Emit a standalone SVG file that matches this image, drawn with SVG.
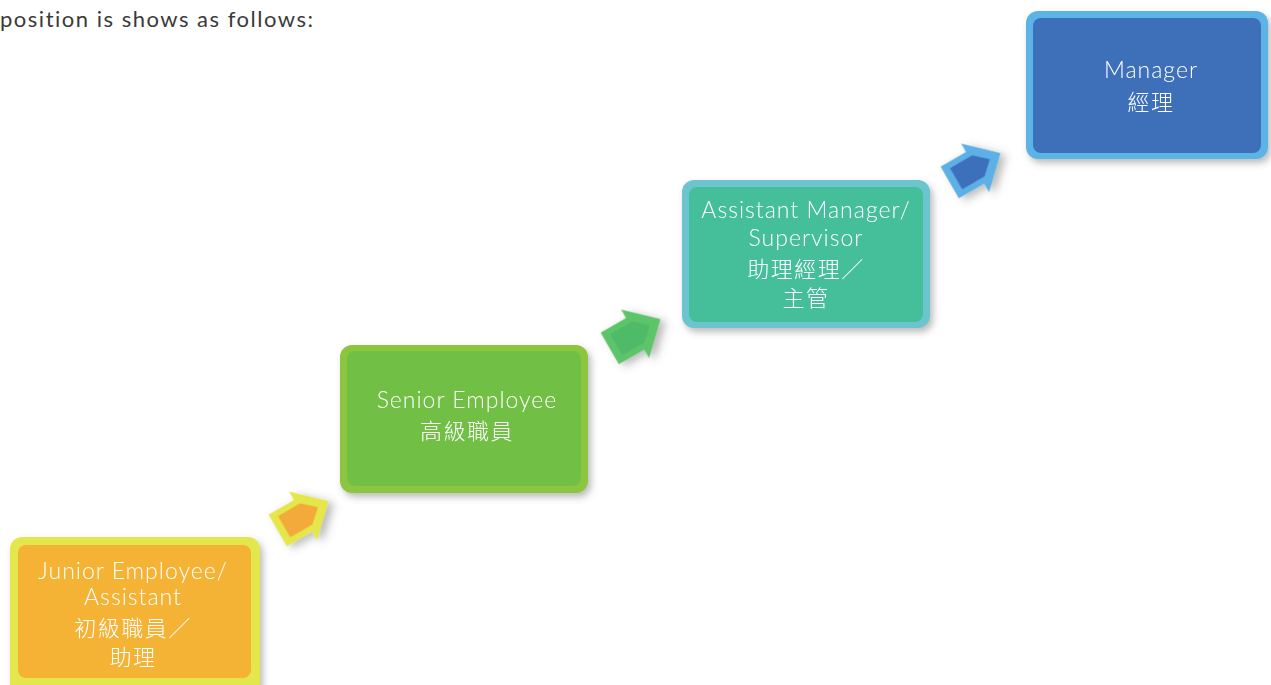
<svg xmlns="http://www.w3.org/2000/svg" width="1271" height="685" viewBox="0 0 1271 685">
<defs>
<filter id="sh" x="-10%" y="-10%" width="125%" height="130%">
<feDropShadow dx="3" dy="4" stdDeviation="3.5" flood-color="#555" flood-opacity="0.4"/>
</filter>
<polygon id="arrOuter" points="-22,-15 2,-15 2,-23 26,0 2,23 2,15 -22,15"/>
<polygon id="arrInner" points="-16,-10 5,-10 16,0 5,10 -16,10"/>
</defs>
<style>
.t{font-family:"Lato","Open Sans","Noto Sans CJK TC",sans-serif;font-size:23px;letter-spacing:1px;fill:#ffffff;text-anchor:middle;font-weight:300;font-variant-ligatures:none}
.c{font-family:"Noto Sans CJK TC","Noto Sans CJK SC",sans-serif;font-size:22px;letter-spacing:1.5px;fill:#ffffff;text-anchor:middle;font-weight:300}
.h{font-family:"Lato","Open Sans",sans-serif;font-size:22px;fill:#3a3a3a;font-variant-ligatures:none}
</style>
<rect width="1271" height="685" fill="#ffffff"/>
<text class="h" x="0" y="27" textLength="313" lengthAdjust="spacing">position is shows as follows:</text>

<g id="connectors">
<g transform="translate(301,517) rotate(-30) scale(1.22)" filter="url(#sh)">
<use href="#arrOuter" fill="#e4e64a"/>
<use href="#arrInner" fill="#f4a93a"/>
</g>
<g transform="translate(633,335) rotate(-30) scale(1.22)" filter="url(#sh)">
<use href="#arrOuter" fill="#5dc46b"/>
<use href="#arrInner" fill="#50bb68"/>
</g>
<g transform="translate(973,169) rotate(-30) scale(1.22)" filter="url(#sh)">
<use href="#arrOuter" fill="#5cb0e6"/>
<use href="#arrInner" fill="#3c6fba"/>
</g>
</g>

<g id="junior" filter="url(#sh)">
<rect x="10" y="537" width="250" height="160" rx="12" fill="#e4e74c"/>
<rect x="18" y="545" width="233" height="133" rx="8" fill="#f5b335"/>
<text class="t" x="133" y="579">Junior Employee/</text>
<text class="t" x="133" y="605">Assistant</text>
<text class="c" x="133" y="636">初級職員／</text>
<text class="c" x="133" y="665">助理</text>
</g>

<g id="senior" filter="url(#sh)">
<rect x="340" y="345" width="248" height="148" rx="12" fill="#8cc640"/>
<rect x="347" y="351" width="234" height="135" rx="8" fill="#72bf44"/>
<text class="t" x="467" y="408">Senior Employee</text>
<text class="c" x="467" y="439">高級職員</text>
</g>

<g id="asstmgr" filter="url(#sh)">
<rect x="682" y="180" width="248" height="148" rx="12" fill="#6cc4cf"/>
<rect x="689" y="187" width="234" height="135" rx="8" fill="#45bf99"/>
<text class="t" x="806" y="218">Assistant Manager/</text>
<text class="t" x="806" y="246">Supervisor</text>
<text class="c" x="806" y="277">助理經理／</text>
<text class="c" x="806" y="306">主管</text>
</g>

<g id="manager" filter="url(#sh)">
<rect x="1026" y="11" width="242" height="148" rx="12" fill="#5cb3e5"/>
<rect x="1033" y="18" width="228" height="135" rx="8" fill="#3e70b8"/>
<text class="t" x="1151" y="78">Manager</text>
<text class="c" x="1151" y="110">經理</text>
</g>
</svg>
